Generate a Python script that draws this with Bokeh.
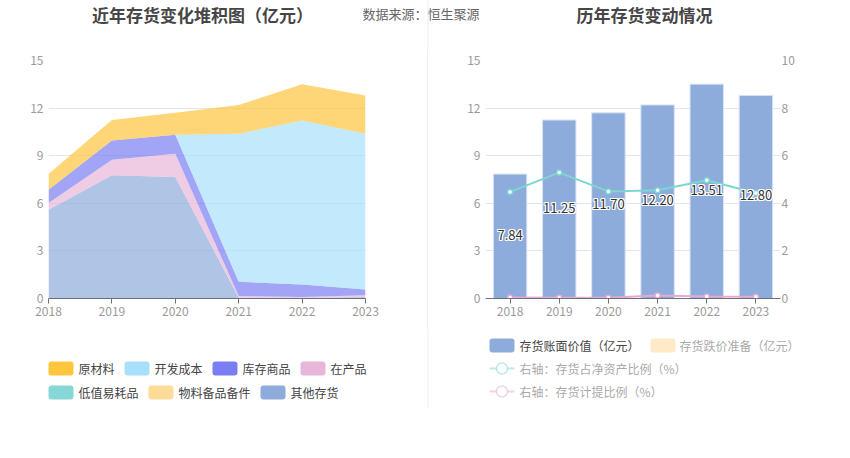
from bokeh.plotting import figure
from bokeh.models import Range1d, FactorRange, LinearAxis, FixedTicker, ColumnDataSource, Div
from bokeh.layouts import row, column
from bokeh.embed import file_html
from bokeh.resources import INLINE
from bokeh.core.properties import value

FONT = "Noto Sans CJK SC"

# ---------------- data ----------------
years = [2018, 2019, 2020, 2021, 2022, 2023]
year_labels = ["2018", "2019", "2020", "2021", "2022", "2023"]

other_inv = [5.60, 7.76, 7.66, 0.05, 0.03, 0.10]      # 其他存货
low_value = [0.0, 0.0, 0.0, 0.0, 0.0, 0.0]            # 低值易耗品
wip = [0.42, 0.99, 1.47, 0.10, 0.07, 0.11]            # 在产品
goods = [0.84, 1.21, 1.19, 0.90, 0.78, 0.36]          # 库存商品
dev_cost = [0.0, 0.0, 0.0, 9.33, 10.34, 9.81]         # 开发成本
spare = [0.0, 0.0, 0.0, 0.0, 0.0, 0.0]                # 物料备品备件
raw = [0.98, 1.29, 1.38, 1.82, 2.29, 2.42]            # 原材料

book_value = [7.84, 11.25, 11.70, 12.20, 13.51, 12.80]   # 存货账面价值（亿元）
impair = [0.0, 0.0, 0.0, 0.0, 0.0, 0.0]                  # 存货跌价准备（亿元）
ratio_net = [4.48, 5.29, 4.50, 4.55, 4.97, 4.43]         # 存货占净资产比例（%）
ratio_prov = [0.04, 0.03, 0.03, 0.13, 0.08, 0.07]        # 存货计提比例（%）

left_ticks = [0, 3, 6, 9, 12, 15]
right_ticks = [0, 2, 4, 6, 8, 10]

# ---------------- style ----------------
C_RAW = "#ffc53d"
C_DEV = "#a8e0fb"
C_GOODS = "#7b7ef2"
C_WIP = "#e8b6d8"
C_LOW = "#87d7d7"
C_SPARE = "#ffdb9a"
C_OTHER = "#8eacdb"
C_TEAL = "#7dd6d0"
C_PINK = "#e6a9d3"
GRID = "#e0e6f1"
AX = "#6e7079"
TICK_TXT = "#9a9a9a"
DIV_C = "#eeeeee"

W = 850
HEAD_H = 50
TOP_B = 10
FH = 238
BOT_B = 32
CHART_H = TOP_B + FH + BOT_B          # 280
LEG_Y0 = HEAD_H + CHART_H             # 330
LEG_H = 458 - LEG_Y0                  # 128


def blank_fig(width, height, y0, y1):
    p = figure(width=width, height=height, x_range=Range1d(0, width),
               y_range=Range1d(y1, y0), x_axis_type=None, y_axis_type=None,
               min_border=0, output_backend="svg", toolbar_location=None)
    p.outline_line_color = None
    p.xgrid.visible = False
    p.ygrid.visible = False
    p.background_fill_color = "white"
    p.border_fill_color = "white"
    return p


def txt(p, x, y, s, size="12px", color="#444444", align="left", bold=False):
    p.text(x=[x], y=[y], text=[s], text_font=value(FONT), text_font_size=size,
           text_color=color, text_align=align, text_baseline="middle",
           text_font_style="bold" if bold else "normal")


def style_axes(p):
    p.outline_line_color = None
    p.background_fill_color = "white"
    p.border_fill_color = "white"
    p.xgrid.visible = False
    for ax in p.yaxis:
        ax.axis_line_color = None
        ax.major_tick_line_color = None
        ax.minor_tick_line_color = None
        ax.major_tick_out = 0
        ax.major_tick_in = 0
        ax.minor_tick_out = 0
        ax.major_label_text_color = TICK_TXT
        ax.major_label_text_font = FONT
        ax.major_label_text_font_size = "12px"
        ax.major_label_standoff = 5
    for ax in p.xaxis:
        ax.axis_line_color = AX
        ax.major_tick_line_color = AX
        ax.major_tick_out = 5
        ax.major_tick_in = 0
        ax.minor_tick_line_color = None
        ax.minor_tick_out = 0
        ax.major_label_text_color = TICK_TXT
        ax.major_label_text_font = FONT
        ax.major_label_text_font_size = "12px"
        ax.major_label_standoff = 3


# ---------------- header ----------------
head = blank_fig(W, HEAD_H, 0, HEAD_H)
txt(head, 202, 14, "近年存货变化堆积图（亿元）", size="17px", color="#464646",
    align="center", bold=True)
txt(head, 644, 14, "历年存货变动情况", size="17px", color="#464646",
    align="center", bold=True)
txt(head, 362, 13, "数据来源：恒生聚源", size="13px", color="#666666")
head.quad(left=[427], right=[428], top=[0], bottom=[HEAD_H], fill_color=DIV_C,
          line_color=None)

# ---------------- left: stacked area ----------------
pl = figure(frame_width=317, frame_height=FH, min_border_left=48,
            min_border_right=62, min_border_top=TOP_B, min_border_bottom=BOT_B,
            x_range=Range1d(2018, 2023), y_range=Range1d(0, 15),
            output_backend="svg", toolbar_location=None)
style_axes(pl)
pl.xaxis.ticker = FixedTicker(ticks=years)
pl.yaxis.ticker = FixedTicker(ticks=left_ticks)
pl.ygrid.ticker = FixedTicker(ticks=left_ticks)
pl.ygrid.grid_line_color = GRID

src = ColumnDataSource(dict(x=years, other=other_inv, low=low_value, wip=wip,
                            goods=goods, dev=dev_cost, spare=spare, raw=raw))
stack_names = ["other", "low", "wip", "goods", "dev", "spare", "raw"]
stack_colors = [C_OTHER, C_LOW, C_WIP, C_GOODS, C_DEV, C_SPARE, C_RAW]
pl.varea_stack(stackers=stack_names, x="x", color=stack_colors, fill_alpha=0.7,
               source=src)

# ---------------- right: bars + lines ----------------
pr = figure(frame_width=295, frame_height=FH, min_border_left=57,
            min_border_right=70, min_border_top=TOP_B, min_border_bottom=BOT_B,
            x_range=FactorRange(*year_labels), y_range=Range1d(0, 15),
            output_backend="svg", toolbar_location=None)
pr.extra_y_ranges = {"r": Range1d(0, 10)}
pr.add_layout(LinearAxis(y_range_name="r", ticker=FixedTicker(ticks=right_ticks)),
              "right")
style_axes(pr)
pr.yaxis[0].ticker = FixedTicker(ticks=left_ticks)
pr.yaxis[1].major_label_standoff = 1
pr.ygrid.ticker = FixedTicker(ticks=left_ticks)
pr.ygrid.grid_line_color = GRID
pr.x_range.range_padding = 0

bsrc = ColumnDataSource(dict(x=year_labels, v=book_value,
                             ly=[v / 2 + 0.1 for v in book_value],
                             t=["%.2f" % v for v in book_value]))
pr.vbar(x="x", top="v", width=0.68, source=bsrc, fill_color=C_OTHER,
        line_color="#d9e3f3", line_width=1)

pr.line(year_labels, ratio_net, y_range_name="r", line_color=C_TEAL, line_width=2)
pr.scatter(year_labels, ratio_net, y_range_name="r", size=5, fill_color="white",
           line_color=C_TEAL, line_width=1.5)
pr.line(year_labels, ratio_prov, y_range_name="r", line_color=C_PINK, line_width=2)
pr.scatter(year_labels, ratio_prov, y_range_name="r", size=5, fill_color="white",
           line_color=C_PINK, line_width=1.5)

for dx, dy in [(-1, 0), (1, 0), (0, -1), (0, 1), (-1, -1), (1, 1), (-1, 1), (1, -1)]:
    pr.text(x="x", y="ly", text="t", source=bsrc, x_offset=dx, y_offset=dy,
            text_color="white", text_align="center", text_baseline="middle",
            text_font=value(FONT), text_font_size="13px")
pr.text(x="x", y="ly", text="t", source=bsrc, text_color="#333333",
        text_align="center", text_baseline="middle",
        text_font=value(FONT), text_font_size="13px")

divider = Div(text="", width=1, height=CHART_H, margin=(0, 0, 0, 0),
              styles={"background-color": DIV_C})

# ---------------- legends ----------------
leg = blank_fig(W, LEG_H, LEG_Y0, 458)
leg.quad(left=[427], right=[428], top=[LEG_Y0], bottom=[408], fill_color=DIV_C,
         line_color=None)

legend_left = [
    ("原材料", C_RAW, 48, 368), ("开发成本", C_DEV, 124, 368),
    ("库存商品", C_GOODS, 212, 368), ("在产品", C_WIP, 300, 368),
    ("低值易耗品", C_LOW, 48, 392), ("物料备品备件", C_SPARE, 148, 392),
    ("其他存货", C_OTHER, 260, 392),
]
for name, col, sx, sy in legend_left:
    leg.quad(left=[sx], right=[sx + 25], top=[sy - 7], bottom=[sy + 7],
             fill_color=col, line_color=None, border_radius=3)
    txt(leg, sx + 30, sy, name, color="#444444")

leg.quad(left=[489], right=[514], top=[338], bottom=[352], fill_color=C_OTHER,
         line_color=None, border_radius=3)
txt(leg, 519, 345, "存货账面价值（亿元）", color="#444444")
leg.quad(left=[650], right=[675], top=[338], bottom=[352], fill_color="#ffe9c7",
         line_color=None, border_radius=3)
txt(leg, 679, 345, "存货跌价准备（亿元）", color="#aaaaaa")
for cy, col, name in [(368, C_TEAL, "右轴：存货占净资产比例（%）"),
                      (391, C_PINK, "右轴：存货计提比例（%）")]:
    leg.line([489, 514], [cy, cy], line_color=col, line_width=2, line_alpha=0.5)
    leg.scatter([501.5], [cy], size=11, fill_color="white", line_color=col,
                line_width=1.5, line_alpha=0.5)
    txt(leg, 519, cy, name, color="#aaaaaa")

layout = column(head, row(pl, divider, pr), leg)
open("out.html", "w").write(file_html(layout, INLINE))
